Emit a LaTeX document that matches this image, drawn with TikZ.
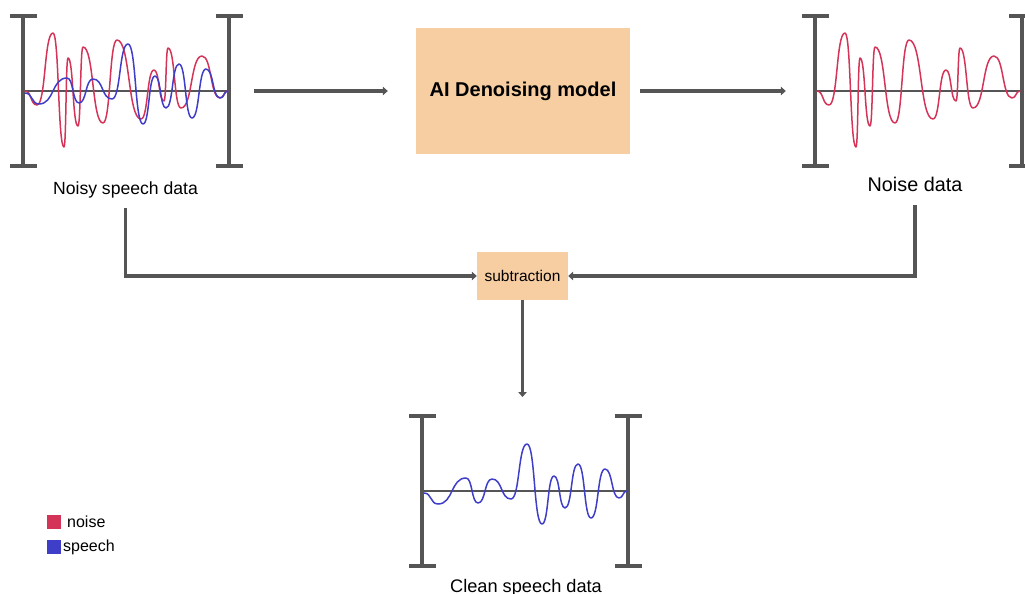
\documentclass[tikz,border=0pt]{standalone}
\usepackage{fontspec}
\setmainfont{Liberation Sans}
\usetikzlibrary{arrows.meta,calc}

\definecolor{peach}{RGB}{247,205,162}
\definecolor{noisered}{RGB}{212,52,88}
\definecolor{speechblue}{RGB}{62,62,200}
\definecolor{linegray}{RGB}{85,85,85}

\tikzset{
  bracketline/.style={draw=linegray, line width=3.2pt},
  axisline/.style={draw=linegray, line width=1.5pt},
  noisewave/.style={draw=noisered, line width=1.5pt, line join=round, line cap=round},
  speechwave/.style={draw=speechblue, line width=1.5pt, line join=round, line cap=round},
  flow/.style={draw=linegray, line width=3.6pt, -{Triangle[length=5pt,width=8.5pt]}},
  procbox/.style={fill=peach, draw=none, inner sep=0pt},
  caption/.style={inner sep=0pt, anchor=base},
  keybox/.style={inner sep=0pt, minimum size=14pt},
  keytext/.style={inner sep=0pt, anchor=west, font=\fontsize{16}{19}\selectfont},
  panel/.style={inner sep=0pt, minimum width=233pt, minimum height=150pt},
}

% smooth wave through extrema, horizontal tangent at each extremum
\newcommand\drawwave[4]{%
  \draw[#1] (#2,#3) foreach \wx/\wy [remember=\wx as \wpx (initially #2), remember=\wy as \wpy (initially #3)] in {#4}
    { .. controls ({\wpx+0.55*(\wx-\wpx)},\wpy) and ({\wx-0.55*(\wx-\wpx)},\wy) .. (\wx,\wy) };
}

% two brackets around a signal, with its zero line
\newcommand\signalframe[3]{%
  \draw[bracketline] (#1-13,#3-75) -- (#1+14,#3-75) (#1,#3-75) -- (#1,#3+75) (#1-13,#3+75) -- (#1+14,#3+75);
  \draw[bracketline] (#2-13,#3-75) -- (#2+14,#3-75) (#2,#3-75) -- (#2,#3+75) (#2-13,#3+75) -- (#2+14,#3+75);
  \draw[axisline] (#1,#3) -- (#2,#3);
}

\newcommand\noisewaveform{\drawwave{noisewave}{2}{0}{14/14, 30/-58, 41/56, 45/-33, 55/35, 60/-44, 80/32, 94/-51, 118/28, 131/-21, 141/10, 145/-43, 158/17, 179/-35, 197/7, 205/0}}
\newcommand\speechwaveform{\drawwave{speechwave}{2}{2}{16/13, 44/-13, 56/12, 70/-12, 89/8, 105/-47, 120/33, 132/-15, 143/17, 156/-27, 169/27, 183/-22, 197/7, 205/0}}

\begin{document}
\begin{tikzpicture}[x=1pt, y=-1pt]
\useasboundingbox (0,0) rectangle (1025,594);

% panels (named areas)
\node[panel] (noisy) at (126.5,91) {};
\node[panel] (noise) at (918.5,91) {};
\node[panel] (clean) at (525.5,491) {};

% noisy speech
\signalframe{23}{229}{91}
\begin{scope}[shift={(23,91)}]
  \noisewaveform
  \speechwaveform
\end{scope}
\node[caption, font=\fontsize{17.6}{20}\selectfont] (noisylbl) at (125.5,194.5) {Noisy speech data};

% noise only
\signalframe{815}{1022}{91}
\begin{scope}[shift={(815,91)}]
  \noisewaveform
\end{scope}
\node[caption, font=\fontsize{19.8}{22}\selectfont] (noiselbl) at (915,191) {Noise data};

% clean speech
\signalframe{422}{628}{491}
\begin{scope}[shift={(422,491)}]
  \speechwaveform
\end{scope}
\node[caption, font=\fontsize{18.2}{21}\selectfont] (cleanlbl) at (526,592) {Clean speech data};

% processing blocks
\node[procbox, minimum width=214pt, minimum height=126pt, font=\bfseries\fontsize{20}{24}\selectfont] (ai) at (523,91) {AI Denoising model};
\node[procbox, minimum width=91pt, minimum height=48pt, font=\fontsize{15.5}{18}\selectfont] (sub) at (522.5,276) {subtraction};

% connectors
\draw[flow] ([xshift=11pt]noisy.east) -- ([xshift=-28pt]ai.west);
\draw[flow] ([xshift=10pt]ai.east) -- ([xshift=-16pt]noise.west);
\draw[flow] ([yshift=-10pt]noisylbl.south) |- (sub.west);
\draw[flow] ([yshift=-14pt]noiselbl.south) |- (sub.east);
\coordinate (cleanin) at (522.5,397);
\draw[flow] (sub.south) -- (cleanin);

% legend
\node[keybox, fill=noisered] (noisekey) at (54,521.5) {};
\node[keytext] (noisetxt) at (67,521.5) {noise};
\node[keybox, fill=speechblue] (speechkey) at (54,547) {};
\node[keytext] (speechtxt) at (63,547) {speech};
\end{tikzpicture}
\end{document}
